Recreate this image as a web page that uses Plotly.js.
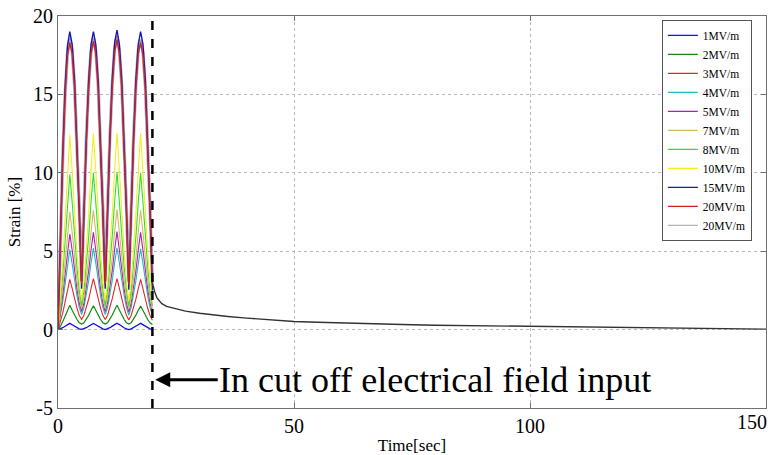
<!DOCTYPE html>
<html>
<head>
<meta charset="utf-8">
<script src="https://cdn.plot.ly/plotly-3.0.1.min.js"></script>
<style>html,body{margin:0;padding:0;background:#fff;}#chart{width:771px;height:455px;}</style>
</head>
<body>
<div id="chart"></div>
<script>
// ---- data ----
const timeOsc = [0,0.5,1,1.5,2,2.5,3,3.5,4,4.5,5,5.5,6,6.5,7,7.5,8,8.5,9,9.5,10,10.5,11,11.5,12,12.5,13,13.5,14,14.5,15,15.5,16,16.5,17,17.5,18,18.5,19,19.5,20];

const seriesNames = ['1MV/m','2MV/m','3MV/m','4MV/m','5MV/m','7MV/m','8MV/m','10MV/m','15MV/m','20MV/m','20MV/m'];

const strain1 = [0,.05,.12,.21,.31,.40,.31,.21,.12,.05, .01,.05,.12,.21,.31,.39,.31,.21,.12,.05, 0,.05,.12,.22,.32,.41,.32,.21,.12,.05, 0,.05,.12,.21,.31,.40,.30,.20,.12,.05, .02];
const strain2 = [0,.20,.50,.85,1.2,1.55,1.24,.92,.66,.44, .36,.44,.66,.92,1.24,1.52,1.24,.92,.66,.44, .35,.44,.66,.93,1.25,1.55,1.25,.92,.66,.44, .35,.44,.66,.92,1.24,1.5,1.22,.9,.64,.43, .33];
const strain3 = [0,.45,1.05,1.75,2.5,3.2,2.63,1.95,1.38,.91, .65,.91,1.38,1.95,2.63,3.25,2.63,1.95,1.38,.91, .65,.92,1.4,1.97,2.65,3.25,2.64,1.95,1.38,.91, .62,.9,1.37,1.94,2.6,3.2,2.6,1.93,1.36,.9, .6];
const strain4 = [0,.8,1.8,2.9,4.1,5.1,4.2,3.14,2.19,1.42, .95,1.42,2.19,3.14,4.25,5.2,4.25,3.14,2.19,1.42, .95,1.42,2.2,3.15,4.27,5.22,4.25,3.14,2.19,1.42, .93,1.41,2.18,3.12,4.2,5.15,4.2,3.1,2.17,1.4, .9];
const strain5 = [0,1.0,2.2,3.5,4.9,6.1,5.08,3.75,2.63,1.71, 1.15,1.71,2.63,3.75,5.08,6.2,5.08,3.75,2.63,1.71, 1.15,1.72,2.65,3.78,5.1,6.25,5.08,3.75,2.63,1.71, 1.12,1.7,2.62,3.74,5.05,6.2,5.05,3.72,2.6,1.7, 1.1];
const strain7 = [0,1.2,2.7,4.3,6.0,7.5,6.21,4.58,3.19,2.06, 1.35,2.06,3.19,4.58,6.21,7.6,6.21,4.58,3.19,2.06, 1.35,2.07,3.2,4.6,6.25,7.65,6.22,4.58,3.19,2.06, 1.32,2.05,3.18,4.56,6.2,7.6,6.18,4.55,3.16,2.04, 1.3];
const strain8 = [0,1.6,3.5,5.6,8.0,9.9,8.13,5.92,4.05,2.52, 1.55,2.52,4.05,5.92,8.13,10.0,8.13,5.92,4.05,2.52, 1.55,2.53,4.07,5.95,8.15,10.05,8.13,5.92,4.05,2.52, 1.52,2.5,4.03,5.9,8.1,10.0,8.1,5.9,4.02,2.5, 1.5];
const strain10 = [0,2.0,4.3,7.0,10.0,12.4,10.15,7.36,5.01,3.08, 1.85,3.08,5.01,7.36,10.15,12.5,10.15,7.36,5.01,3.08, 1.85,3.1,5.03,7.4,10.2,12.55,10.15,7.36,5.01,3.08, 1.82,3.06,5.0,7.34,10.1,12.5,10.1,7.33,4.98,3.06, 1.8];
const strain15 = [0,5.9,11.2,15.4,18.1,19.0,18.2,15.9,12.2,7.6, 2.6,7.6,12.2,15.9,18.2,19.0,18.2,15.9,12.2,7.6, 2.6,7.7,12.3,16.0,18.3,19.1,18.2,15.9,12.2,7.6, 2.55,7.6,12.2,15.9,18.2,19.0,18.2,15.9,12.2,7.6, 2.5];
const strain20a = [0,5.7,10.8,14.9,17.5,18.3,17.6,15.4,12.0,7.6, 2.9,7.6,12.0,15.4,17.6,18.4,17.6,15.4,12.0,7.6, 2.9,7.7,12.1,15.5,17.7,18.5,17.6,15.4,12.0,7.6, 2.85,7.6,12.0,15.4,17.6,18.3,17.5,15.3,11.9,7.5, 2.8];
const strain20b = [0,5.8,10.9,15.0,17.6,18.6,17.8,15.6,12.2,7.8, 3.1,7.8,12.2,15.6,17.8,18.6,17.8,15.6,12.2,7.8, 3.1,7.9,12.3,15.7,17.9,18.7,17.8,15.6,12.2,7.8, 3.05,7.8,12.2,15.6,17.8,18.5,17.7,15.5,12.1,7.7, 3.0];

const timeDecay = [20,20.5,21,22,23,24,25,27,30,33,36,40,45,50,55,60,65,70,75,80,85,90,95,100,105,110,115,120,125,130,135,140,145,150];
const strainDecay = [3.0,2.4,2.0,1.65,1.48,1.4,1.32,1.18,1.04,0.93,0.84,0.73,0.61,0.52,0.47,0.42,0.38,0.34,0.31,0.28,0.26,0.23,0.21,0.19,0.17,0.15,0.14,0.12,0.10,0.09,0.07,0.06,0.04,0.03];

const cutoffTime = 20;
const xTicks = [0,50,100,150];
const xTickLabels = ['0','50','100',''];   // last label is drawn right-aligned below (as in the reference)
const lastXTickLabel = '150';
const yTicks = [-5,0,5,10,15,20];
const yTickLabels = ['-5','0','5','10','15','20'];
const noteText = 'In cut off electrical field input';

// ---- styling ----
const allSeries = [strain1,strain2,strain3,strain4,strain5,strain7,strain8,strain10,strain15,strain20a,strain20b];
const colors = ['#1010f0','#108a10','#e02828','#20b8b8','#b020b0','#d8b860','#30e030','#f0f020','#1818b0','#d02020','#a8a8bc'];
const widths = [1.3,1.2,1.1,1.1,1.1,1.1,1.1,1.1,1.4,1.3,3.2];
const serif = 'Liberation Serif';

const traces = [];
// gray (last) series drawn first and kept out of the legend; a thin legend-only entry stands for it
traces.push({
  type:'scatter', mode:'lines', x: timeOsc, y: strain20b, name: seriesNames[10], showlegend:false,
  line:{color: colors[10], width: widths[10]}
});
for (let i = 0; i < 10; i++) {
  traces.push({
    type:'scatter', mode:'lines', x: timeOsc, y: allSeries[i], name: seriesNames[i],
    line:{color: colors[i], width: widths[i]}, legendrank: i+1
  });
}
traces.push({
  type:'scatter', mode:'lines', x:[null], y:[null], name: seriesNames[10],
  line:{color:'#b4b4b4', width:1.3}, legendrank: 11
});
traces.push({
  type:'scatter', mode:'lines', x: timeDecay, y: strainDecay, showlegend:false,
  line:{color:'#333333', width:1.4}
});

const axisCommon = {
  showline:true, linecolor:'#707070', linewidth:1, mirror:'ticks',
  ticks:'inside', ticklen:5, tickcolor:'#707070',
  showgrid:true, gridcolor:'#b8b8b8', griddash:'dot', gridwidth:1,
  zeroline:false, tickfont:{family:serif, size:20, color:'#000'}
};

const layout = {
  width:771, height:455,
  margin:{l:58, r:5, t:16, b:47},
  paper_bgcolor:'#fff', plot_bgcolor:'#fff',
  showlegend:true,
  font:{family:serif},
  xaxis: Object.assign({}, axisCommon, {
    range:[0,150], tickvals:xTicks, ticktext:xTickLabels,
    title:{text:'Time[sec]', font:{family:serif, size:17, color:'#000'}, standoff:4}
  }),
  yaxis: Object.assign({}, axisCommon, {
    range:[-5,20], tickvals:yTicks, ticktext:yTickLabels,
    title:{text:'Strain [%]', font:{family:serif, size:17, color:'#000'}, standoff:8}
  }),
  legend:{
    x:0.98, xanchor:'right', y:0.99, yanchor:'top',
    bgcolor:'#fff', bordercolor:'#555', borderwidth:1,
    font:{family:serif, size:11.5, color:'#000'},
    itemwidth:30, tracegroupgap:0
  },
  shapes:[{
    type:'line', xref:'x', yref:'y', x0:cutoffTime, x1:cutoffTime, y0:-5, y1:20,
    line:{color:'#000', width:2.5, dash:'dash'}
  }],
  annotations:[{
    xref:'x', yref:'y', x:cutoffTime+0.6, y:-3.2,
    text:noteText, showarrow:true, arrowhead:2, arrowsize:1, arrowwidth:3, arrowcolor:'#000',
    ax:280, ay:0, axref:'pixel', ayref:'pixel',
    font:{family:serif, size:36, color:'#000'}
  },{
    xref:'x', yref:'paper', x:xTicks[3], y:0, xanchor:'right', yanchor:'top',
    yshift:-1, xshift:3, showarrow:false, text:lastXTickLabel,
    font:{family:serif, size:20, color:'#000'}
  }]
};

Plotly.newPlot('chart', traces, layout, {displayModeBar:false, staticPlot:true});
</script>
</body>
</html>
